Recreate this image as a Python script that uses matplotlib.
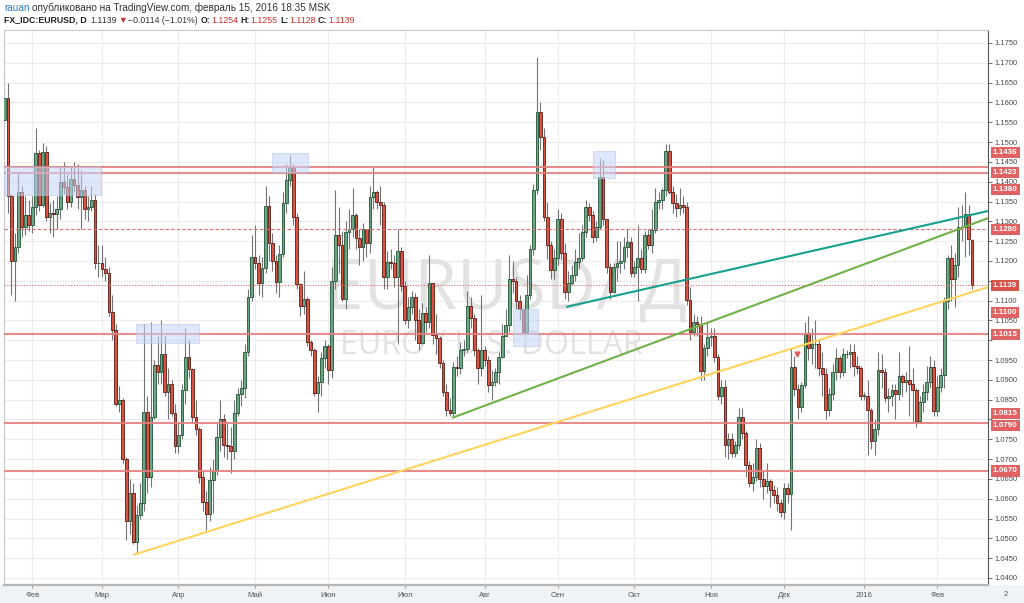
import matplotlib

matplotlib.use("Agg")
import matplotlib.pyplot as plt
import matplotlib.transforms as mtransforms
from matplotlib.patches import Rectangle
import numpy as np
import pandas as pd

# daily EURUSD bars, 21 Jan 2015 .. 15 Feb 2016 (weekdays)
FIRST_OPEN = 1.1555
LAST_OPEN = 1.1254
CLOSE = [
    # jan 2015
    1.1610, 1.1365, 1.1200, 1.1235, 1.1375, 1.1285, 1.1315, 1.1290,
    # feb
    1.1337, 1.1472, 1.1340, 1.1475, 1.1312, 1.1320, 1.1318, 1.1330, 1.1400, 1.1386,
    1.1350, 1.1407, 1.1392, 1.1362, 1.1380, 1.1331, 1.1337, 1.1355, 1.1194, 1.1195,
    # mar
    1.1179, 1.1170, 1.1070, 1.1026, 1.0840, 1.0849, 1.0700, 1.0545, 1.0615, 1.0491, 1.0559,
    1.0589, 1.0819, 1.0655, 1.0806, 1.0937, 1.0920, 1.0965, 1.0869, 1.0889, 1.0816, 1.0733,
    # apr
    1.0761, 1.0874, 1.0958, 1.0927, 1.0806, 1.0776, 1.0655, 1.0592, 1.0561, 1.0647, 1.0670,
    1.0756, 1.0800, 1.0735, 1.0732, 1.0720, 1.0816, 1.0864, 1.0879, 1.0970, 1.1109, 1.1210,
    # may
    1.1195, 1.1145, 1.1182, 1.1339, 1.1245, 1.1200, 1.1147, 1.1217, 1.1346, 1.1404, 1.1437,
    1.1311, 1.1142, 1.1086, 1.1104, 1.0995, 1.0975, 1.0867, 1.0895, 1.0955, 1.0985,
    # jun
    1.0925, 1.1150, 1.1265, 1.1240, 1.1105, 1.1273, 1.1280, 1.1316, 1.1258, 1.1235, 1.1280,
    1.1245, 1.1361, 1.1375, 1.1350, 1.1340, 1.1160, 1.1197, 1.1195, 1.1160, 1.1225, 1.1137,
    # jul
    1.1050, 1.1083, 1.1109, 1.1050, 1.0993, 1.1069, 1.1045, 1.1144, 1.1013, 1.1005, 1.0942, 1.0869,
    1.0824, 1.0817, 1.0932, 1.0929, 1.0975, 1.0978, 1.1086, 1.1056, 1.0975, 1.0930, 1.0975,
    # aug
    1.0950, 1.0887, 1.0895, 1.0920, 1.0957, 1.1010, 1.1038, 1.1154, 1.1150, 1.1100, 1.1080,
    1.1021, 1.1114, 1.1230, 1.1379, 1.1576, 1.1513, 1.1311, 1.1240, 1.1177, 1.1207,
    # sep
    1.1306, 1.1220, 1.1122, 1.1145, 1.1165, 1.1197, 1.1207, 1.1273, 1.1336, 1.1315, 1.1260,
    1.1285, 1.1412, 1.1306, 1.1185, 1.1122, 1.1185, 1.1195, 1.1200, 1.1236, 1.1248, 1.1170,
    # oct
    1.1184, 1.1207, 1.1180, 1.1266, 1.1240, 1.1278, 1.1349, 1.1355, 1.1379, 1.1478, 1.1374,
    1.1346, 1.1333, 1.1340, 1.1335, 1.1101, 1.1021, 1.1046, 1.1040, 1.0922, 1.0980, 1.1008,
    # nov
    1.1010, 1.0958, 1.0860, 1.0882, 1.0735, 1.0750, 1.0715, 1.0735, 1.0806, 1.0766, 1.0685,
    1.0640, 1.0655, 1.0728, 1.0650, 1.0633, 1.0645, 1.0622, 1.0610, 1.0590, 1.0567,
    # dec
    1.0627, 1.0612, 1.0933, 1.0877, 1.0832, 1.0887, 1.1019, 1.0980, 1.0990, 1.0990, 1.0930, 1.0915,
    1.0825, 1.0865, 1.0920, 1.0955, 1.0920, 1.0965, 1.0965, 1.0970, 1.0935, 1.0930, 1.0860,
    # jan 2016
    1.0860, 1.0825, 1.0745, 1.0775, 1.0925, 1.0920, 1.0855, 1.0860, 1.0875, 1.0865, 1.0910,
    1.0895, 1.0900, 1.0890, 1.0875, 1.0795, 1.0845, 1.0870, 1.0895, 1.0932, 1.0822,
    # feb 2016
    1.0883, 1.0912, 1.1099, 1.1207, 1.1155, 1.1190, 1.1286, 1.1285, 1.1318, 1.1255, 1.1139,
]
HIGH = [
    1.1680, 1.1650, 1.1370, 1.1270, 1.1425, 1.1390, 1.1365, 1.1355,
    1.1365, 1.1535, 1.1480, 1.1498, 1.1490, 1.1345, 1.1355, 1.1365, 1.1440, 1.1450,
    1.1420, 1.1440, 1.1450, 1.1445, 1.1430, 1.1390, 1.1365, 1.1390, 1.1370, 1.1240,
    1.1240, 1.1210, 1.1185, 1.1115, 1.1040, 1.0885, 1.0855, 1.0705, 1.0650, 1.0640, 1.0585,
    1.0640, 1.1040, 1.0860, 1.1045, 1.0950, 1.1010, 1.1050, 1.1010, 1.0930, 1.0900, 1.0840,
    1.0790, 1.0890, 1.1030, 1.1000, 1.0930, 1.0850, 1.0780, 1.0670, 1.0620, 1.0680, 1.0700,
    1.0790, 1.0850, 1.0815, 1.0790, 1.0780, 1.0850, 1.0880, 1.0900, 1.0990, 1.1130, 1.1265,
    1.1290, 1.1215, 1.1210, 1.1390, 1.1365, 1.1270, 1.1215, 1.1240, 1.1375, 1.1445, 1.1467,
    1.1445, 1.1320, 1.1145, 1.1175, 1.1110, 1.1000, 1.0980, 1.0910, 1.0970, 1.1000,
    1.0990, 1.1185, 1.1380, 1.1335, 1.1275, 1.1300, 1.1330, 1.1385, 1.1320, 1.1280, 1.1295,
    1.1275, 1.1390, 1.1436, 1.1380, 1.1390, 1.1350, 1.1225, 1.1230, 1.1215, 1.1280, 1.1235,
    1.1150, 1.1110, 1.1125, 1.1120, 1.1080, 1.1095, 1.1085, 1.1215, 1.1145, 1.1065, 1.1010, 1.0950,
    1.0890, 1.0855, 1.0945, 1.0960, 1.0995, 1.1000, 1.1125, 1.1110, 1.1065, 1.0980, 1.1115,
    1.0985, 1.0960, 1.0925, 1.0930, 1.0970, 1.1040, 1.1080, 1.1215, 1.1200, 1.1160, 1.1115,
    1.1070, 1.1165, 1.1240, 1.1395, 1.1714, 1.1600, 1.1535, 1.1350, 1.1250, 1.1230,
    1.1330, 1.1320, 1.1245, 1.1175, 1.1190, 1.1230, 1.1270, 1.1290, 1.1355, 1.1345, 1.1325,
    1.1300, 1.1460, 1.1455, 1.1300, 1.1195, 1.1195, 1.1250, 1.1250, 1.1260, 1.1280, 1.1260,
    1.1200, 1.1290, 1.1230, 1.1275, 1.1280, 1.1330, 1.1385, 1.1375, 1.1385, 1.1495, 1.1495,
    1.1390, 1.1370, 1.1385, 1.1365, 1.1350, 1.1135, 1.1065, 1.1060, 1.1060, 1.0990, 1.1045,
    1.1030, 1.1030, 1.0965, 1.0900, 1.0900, 1.0765, 1.0765, 1.0745, 1.0830, 1.0830, 1.0770,
    1.0695, 1.0690, 1.0750, 1.0740, 1.0670, 1.0690, 1.0650, 1.0635, 1.0630, 1.0600,
    1.0640, 1.0640, 1.0980, 1.0960, 1.0890, 1.0895, 1.1045, 1.1060, 1.1030, 1.1050, 1.1000, 1.0970,
    1.0930, 1.0880, 1.0940, 1.0980, 1.0960, 1.0980, 1.0975, 1.0990, 1.0990, 1.0960, 1.0935,
    1.0870, 1.0900, 1.0830, 1.0800, 1.0970, 1.0965, 1.0930, 1.0880, 1.0890, 1.0890, 1.0970,
    1.0915, 1.0920, 1.0985, 1.0930, 1.0880, 1.0860, 1.0890, 1.0935, 1.0960, 1.0950,
    1.0910, 1.0930, 1.1110, 1.1215, 1.1240, 1.1220, 1.1335, 1.1340, 1.1375, 1.1340, 1.1255,
]
LOW = [
    1.1540, 1.1320, 1.1115, 1.1098, 1.1220, 1.1260, 1.1265, 1.1275,
    1.1270, 1.1315, 1.1325, 1.1335, 1.1300, 1.1270, 1.1260, 1.1280, 1.1305, 1.1370,
    1.1330, 1.1335, 1.1375, 1.1330, 1.1280, 1.1305, 1.1300, 1.1325, 1.1180, 1.1160,
    1.1160, 1.1150, 1.1060, 1.1000, 1.0835, 1.0820, 1.0690, 1.0495, 1.0510, 1.0485, 1.0462,
    1.0550, 1.0570, 1.0615, 1.0630, 1.0800, 1.0890, 1.0890, 1.0860, 1.0800, 1.0810, 1.0715,
    1.0715, 1.0750, 1.0840, 1.0905, 1.0790, 1.0760, 1.0640, 1.0570, 1.0520, 1.0545, 1.0565,
    1.0660, 1.0720, 1.0705, 1.0700, 1.0665, 1.0700, 1.0810, 1.0835, 1.0855, 1.0960, 1.1100,
    1.1180, 1.1115, 1.1110, 1.1170, 1.1200, 1.1175, 1.1120, 1.1110, 1.1210, 1.1320, 1.1390,
    1.1290, 1.1130, 1.1060, 1.1065, 1.0985, 1.0960, 1.0860, 1.0819, 1.0860, 1.0930,
    1.0890, 1.0905, 1.1130, 1.1170, 1.1100, 1.1080, 1.1230, 1.1260, 1.1230, 1.1190, 1.1200,
    1.1210, 1.1220, 1.1330, 1.1330, 1.1290, 1.1130, 1.1130, 1.1180, 1.1135, 1.0990, 1.1125,
    1.1040, 1.1030, 1.1065, 1.1000, 1.0975, 1.0990, 1.1020, 1.1030, 1.0990, 1.0965, 1.0930, 1.0860,
    1.0810, 1.0809, 1.0810, 1.0910, 1.0915, 1.0960, 1.0970, 1.1030, 1.0960, 1.0890, 1.0910,
    1.0935, 1.0870, 1.0848, 1.0885, 1.0890, 1.0955, 1.1010, 1.1020, 1.1120, 1.1080, 1.1050,
    1.1015, 1.1015, 1.1105, 1.1215, 1.1370, 1.1480, 1.1300, 1.1205, 1.1155, 1.1155,
    1.1190, 1.1205, 1.1105, 1.1100, 1.1140, 1.1150, 1.1180, 1.1200, 1.1260, 1.1300, 1.1245,
    1.1250, 1.1280, 1.1290, 1.1170, 1.1105, 1.1120, 1.1150, 1.1170, 1.1180, 1.1210, 1.1160,
    1.1160, 1.1100, 1.1170, 1.1170, 1.1230, 1.1220, 1.1270, 1.1330, 1.1330, 1.1365, 1.1370,
    1.1320, 1.1310, 1.1315, 1.1320, 1.1090, 1.1000, 1.1010, 1.1010, 1.0900, 1.0900, 1.0960,
    1.0985, 1.0945, 1.0850, 1.0840, 1.0705, 1.0700, 1.0705, 1.0705, 1.0725, 1.0750, 1.0655,
    1.0630, 1.0620, 1.0645, 1.0630, 1.0600, 1.0615, 1.0580, 1.0590, 1.0570, 1.0555,
    1.0550, 1.0590, 1.0521, 1.0860, 1.0800, 1.0820, 1.0880, 1.0950, 1.0940, 1.0930, 1.0910, 1.0860,
    1.0800, 1.0810, 1.0850, 1.0900, 1.0905, 1.0910, 1.0955, 1.0930, 1.0910, 1.0915, 1.0850,
    1.0850, 1.0710, 1.0725, 1.0710, 1.0760, 1.0880, 1.0845, 1.0820, 1.0835, 1.0800, 1.0850,
    1.0860, 1.0870, 1.0810, 1.0790, 1.0780, 1.0790, 1.0820, 1.0850, 1.0880, 1.0810,
    1.0810, 1.0870, 1.0880, 1.1080, 1.1100, 1.1085, 1.1160, 1.1250, 1.1210, 1.1215, 1.1128,
]

MONTH_LABELS = ["Фев", "Мар", "Апр", "Май", "Июн", "Июл", "Авг", "Сен", "Окт", "Ноя", "Дек", "2016", "Фев"]

# horizontal levels drawn on the chart
SOLID_LEVELS = [1.1436, 1.1423, 1.1015, 1.0790, 1.0670]
DASHED_LEVEL = 1.1280
LAST_PRICE = 1.1139
AXIS_TAGS = [1.1436, 1.1423, 1.1380, 1.1280, 1.1139, 1.1100, 1.1015, 1.0815, 1.0790, 1.0670]

# trend lines: (bar, price) -> (bar, price)
TRENDS = [
    ((36.9, 1.0458), (282.6, 1.1134), "#ffd45c"),
    ((128.6, 1.0804), (282.6, 1.1308), "#72b04a"),
    ((161.4, 1.1084), (282.6, 1.1326), "#17a08c"),
]

# highlighted zones: bar from, bar to, price low, price high
ZONES = [
    (-0.1, 27.7, 1.1366, 1.1437),
    (37.8, 55.9, 1.0993, 1.1041),
    (76.9, 87.2, 1.1425, 1.1472),
    (169.1, 175.4, 1.1409, 1.1478),
    (146.1, 153.3, 1.0985, 1.1079),
]

UP_FILL, UP_EDGE = "#6ba583", "#225437"
DN_FILL, DN_EDGE = "#d75442", "#5b1a13"
WICK = "#737375"
TAG_RED = "#e06262"
FONT = ["Liberation Sans", "DejaVu Sans"]


def px_to_price(y):
    return 1.1750 - (y - 43) / 3963


def header_flow(fig, x, y, parts, size):
    renderer = fig.canvas.get_renderer()
    tr = mtransforms.IdentityTransform()
    for text, color, weight, gap in parts:
        t = fig.text(x, y, text, color=color, fontsize=size, fontweight=weight,
                     family=FONT, transform=tr, va="baseline", ha="left")
        x = t.get_window_extent(renderer).x1 + gap


def main():
    dates = pd.bdate_range("2015-01-21", "2016-02-15")
    close = np.array(CLOSE)
    high = np.array(HIGH)
    low = np.array(LOW)
    assert len(dates) == len(close) == len(high) == len(low)
    opens = np.concatenate([[FIRST_OPEN], close[:-1]])
    opens[-1] = LAST_OPEN
    idx = np.arange(len(close))

    fig = plt.figure(figsize=(10.24, 6.03), dpi=100)
    fig.patch.set_facecolor("white")
    fig.add_artist(Rectangle((0, 0), 1, 18 / 603, transform=fig.transFigure,
                             facecolor="#f0f3f6", edgecolor="none", zorder=0))
    ax = fig.add_axes([4 / 1024, 18 / 603, 984 / 1024, 555 / 603])
    ax.set_xlim(-0.14, 282.6)
    ax.set_ylim(1.03823, 1.17828)

    # grid
    yt = np.round(np.arange(1.040, 1.1751, 0.005), 4)
    for v in yt:
        ax.axhline(v, color="#ececec", lw=0.8, zorder=0)
    month_start = [i for i in range(1, len(dates)) if dates[i].month != dates[i - 1].month]
    for i in month_start:
        ax.axvline(i, color="#ececec", lw=0.8, zorder=0)

    # watermark
    wm = ["Open Sans", "DejaVu Sans"]
    ax.text(144.0, px_to_price(310), "EURUSD/ Д", fontsize=50,
            color="#e2e2e2", ha="center", va="baseline", family=wm, zorder=0.5)
    ax.text(139.8, px_to_price(354), "EURO / U.S. DOLLAR", fontsize=23, color="#e2e2e2",
            ha="center", va="baseline", family=wm, zorder=0.5)

    # candles
    up = close >= opens
    ax.vlines(idx, low, high, color=WICK, lw=0.8, zorder=2)
    bottom = np.minimum(opens, close)
    height = np.maximum(np.abs(close - opens), 0.00012)
    ax.bar(idx[up], height[up], bottom=bottom[up], width=0.8, color=UP_FILL,
           edgecolor=UP_EDGE, linewidth=0.6, zorder=3)
    ax.bar(idx[~up], height[~up], bottom=bottom[~up], width=0.8, color=DN_FILL,
           edgecolor=DN_EDGE, linewidth=0.6, zorder=3)

    # levels
    for lv in SOLID_LEVELS:
        ax.axhline(lv, color="#e58080", lw=1.5, alpha=0.9, zorder=4)
    ax.axhline(DASHED_LEVEL, color="#e36a6a", lw=0.8, ls=(0, (3, 2)), zorder=4)
    ax.axhline(LAST_PRICE, color="#e36a6a", lw=0.8, ls=(0, (1, 1.5)), zorder=4)

    # trend lines
    for (x1, y1), (x2, y2), col in TRENDS:
        ax.plot([x1, x2], [y1, y2], color=col, lw=1.5, zorder=5, solid_capstyle="butt")

    # zones
    for x1, x2, y1, y2 in ZONES:
        ax.add_patch(Rectangle((x1, y1), x2 - x1, y2 - y1, facecolor="#c5d6f6",
                               edgecolor="#b3c7ee", lw=0.8, alpha=0.55, zorder=6))

    ax.plot([227.6], [1.0966], marker="v", ms=3.5, color="#e05a5a", zorder=6, ls="none")

    # axes styling
    for side in ("top", "left"):
        ax.spines[side].set_color("#c8c8c8")
        ax.spines[side].set_linewidth(0.8)
    ax.spines["right"].set_color("#555555")
    ax.spines["right"].set_linewidth(0.8)
    ax.spines["bottom"].set_color("#b4b4b4")
    ax.spines["bottom"].set_linewidth(1.6)

    # tag positions in pixels (some nudged apart like the original)
    nudge_px = {1.1436: -15, 1.1100: 11.5, 1.0790: 2.5}
    tag_px = [43 + (1.1750 - v) * 3963 + nudge_px.get(v, 0) for v in AXIS_TAGS]

    ax.yaxis.tick_right()
    ax.set_yticks(yt)
    labels = []
    for v in yt:
        ypx = 43 + (1.1750 - v) * 3963
        hidden = any(abs(ypx - t) < 7 for t in tag_px)
        labels.append("" if hidden else f"{v:.4f}")
    ax.set_yticklabels(labels)
    ax.tick_params(axis="y", length=3, width=0.6, color="#555555", pad=2,
                   labelsize=5.5, labelcolor="#4a4a4a")
    ax.set_xticks(month_start)
    ax.set_xticklabels(MONTH_LABELS)
    ax.tick_params(axis="x", length=2, width=0.6, color="#888888", pad=3,
                   labelsize=5.5, labelcolor="#555555")
    for lbl in ax.get_xticklabels() + ax.get_yticklabels():
        lbl.set_family(FONT)
    fig.text(1006 / 1024, 8 / 603, "2", fontsize=5.5, color="#555555", ha="center",
             va="center", family=FONT)

    for v in AXIS_TAGS:
        fc = "#d9534a" if v == LAST_PRICE else TAG_RED
        ax.annotate(f"{v:.4f}", xy=(1.0, v), xycoords=("axes fraction", "data"),
                    xytext=(3.5, -nudge_px.get(v, 0) * 0.72), textcoords="offset points",
                    ha="left", va="center", fontsize=5.8, fontweight="bold", color="white",
                    family=FONT, annotation_clip=False, zorder=10,
                    bbox=dict(boxstyle="square,pad=0.25", fc=fc, ec="none"))

    # header
    fig.canvas.draw()
    header_flow(fig, 4, 603 - 11, [
        ("rauan", "#2f7bbd", "normal", 2.5),
        ("опубликовано на TradingView.com, февраль 15, 2016 18:35 MSK", "#333333", "normal", 0),
    ], 7.2)
    red = "#c7302a"
    dark = "#222222"
    header_flow(fig, 4, 603 - 23, [
        ("FX_IDC:EURUSD, D", dark, "bold", 3.5),
        ("1.1139", "#333333", "normal", 2),
        ("▼", red, "normal", 1),
        ("−0.0114 (−1.01%)", "#333333", "normal", 3),
        ("O:", dark, "bold", 0.5),
        ("1.1254", red, "normal", 2.5),
        ("H:", dark, "bold", 0.5),
        ("1.1255", red, "normal", 2.5),
        ("L:", dark, "bold", 0.5),
        ("1.1128", red, "normal", 2.5),
        ("C:", dark, "bold", 0.5),
        ("1.1139", red, "normal", 0),
    ], 6.3)

    fig.savefig("out.png", dpi=100)
    plt.close(fig)


if __name__ == "__main__":
    main()
